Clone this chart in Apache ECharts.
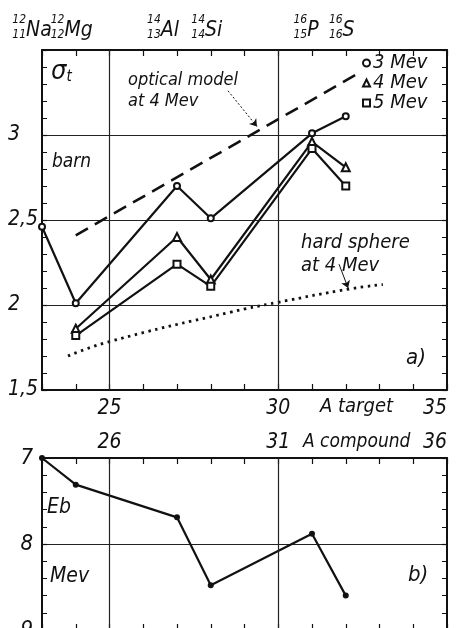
<!DOCTYPE html>
<html><head><meta charset="utf-8">
<script src="https://cdn.jsdelivr.net/npm/echarts@6/dist/echarts.min.js"></script>
<style>html,body{margin:0;padding:0;background:#fff}#c{width:457px;height:628px}</style>
</head><body><div id="c"></div>
<script>
// ---- data ----
const elements = ['Na','Mg','Al','Si','P','S'];
const elementTop = ['12','12','14','14','16','16'];
const elementZ = ['11','12','13','14','15','16'];
const targetA = [23,24,27,28,31,32];
const sigma3 = [2.46,2.01,2.70,2.51,3.01,3.11];
const sigma4 = [null,1.86,2.40,2.15,2.96,2.81];
const sigma5 = [null,1.82,2.24,2.11,2.92,2.70];
const opticalA = [24,32.35];
const opticalSigma = [2.41,3.36];
const hardA = [23.77,25,28.57,30,32.13,33.1];
const hardSigma = [1.70,1.785,1.957,2.016,2.095,2.12];
const compoundA = [24,25,28,29,32,33];
const Eb = [7.00,7.31,7.69,8.48,7.88,8.60];
const sigmaTicks = [1.5,2,2.5,3];
const targetTicks = [25,30,35];
const compoundTicks = [26,31,36];
const EbTicks = [7,8,9];
const targetGrid = [25,30];
const compoundGrid = [26,31];
const opticalArrow = [[28.51,3.26],[29.37,3.05]];
const hardArrow = [[31.8,2.24],[32.07,2.10]];

// ---- layout (pixel nudges of element labels) ----
const labelDx = [-10,-4,-14,-4,-6,-4];

const FF = "'Liberation Sans Narrow','DejaVu Sans Condensed','DejaVu Sans',sans-serif";
const K = '#111';
const txt = (size) => ({fontFamily: FF, fontStyle: 'italic', fontSize: size, color: K});

const pairs = (xs, ys) => xs.map((x,i)=>[x, ys[i]]).filter(p => p[1] != null);

const chart = echarts.init(document.getElementById('c'), null, {renderer:'canvas'});

const tickCommon = {show:true, inside:true, length:6, lineStyle:{color:K, width:1.2}};
const lineAxis = {show:true, lineStyle:{color:K, width:2}};

const option = {
  animation: false,
  backgroundColor: '#fff',
  grid: [
    {left:42, top:50, width:405, height:340, outerBoundsMode:'none', containLabel:false},
    {left:42, top:458, width:405, height:172, outerBoundsMode:'none', containLabel:false}
  ],
  xAxis: [
    {gridIndex:0, type:'value', position:'bottom', min:23, max:35, interval:1,
     axisLine:lineAxis, axisTick:tickCommon, splitLine:{show:false},
     axisLabel:Object.assign(txt(21), {margin:8, alignMaxLabel:'right',
       formatter: v => targetTicks.includes(v) ? String(v) : ''})},
    {gridIndex:0, type:'value', position:'top', min:23, max:35, interval:1,
     axisLine:lineAxis, axisTick:tickCommon, splitLine:{show:false}, axisLabel:{show:false}},
    {gridIndex:1, type:'value', position:'top', min:24, max:36, interval:1,
     axisLine:lineAxis, axisTick:tickCommon, splitLine:{show:false},
     axisLabel:Object.assign(txt(21), {margin:5, alignMaxLabel:'right',
       formatter: v => compoundTicks.includes(v) ? String(v) : ''})},
    {gridIndex:1, type:'value', position:'bottom', min:24, max:36, interval:1,
     axisLine:lineAxis, axisTick:tickCommon, splitLine:{show:false}, axisLabel:{show:false}}
  ],
  yAxis: [
    {gridIndex:0, type:'value', position:'left', min:1.5, max:3.5, interval:0.5,
     axisLine:lineAxis, axisTick:Object.assign({}, tickCommon, {length:5}),
     minorTick:{show:true, splitNumber:5, length:5, lineStyle:{color:K, width:1}},
     splitLine:{show:true, lineStyle:{color:'#222', width:1}},
     axisLabel:Object.assign(txt(21), {margin:34, align:'left',
       formatter: v => sigmaTicks.includes(v) ? String(v).replace('.', ',') : ''})},
    {gridIndex:0, type:'value', position:'right', min:1.5, max:3.5, interval:0.5,
     axisLine:lineAxis, axisTick:Object.assign({}, tickCommon, {length:5}),
     minorTick:{show:true, splitNumber:5, length:5, lineStyle:{color:K, width:1}},
     splitLine:{show:false}, axisLabel:{show:false}},
    {gridIndex:1, type:'value', position:'left', inverse:true, min:7, max:9, interval:1,
     axisLine:lineAxis, axisTick:Object.assign({}, tickCommon, {length:5}),
     minorTick:{show:true, splitNumber:5, length:5, lineStyle:{color:K, width:1}},
     splitLine:{show:true, lineStyle:{color:'#222', width:1}},
     axisLabel:Object.assign(txt(22), {margin:9, align:'right',
       formatter: v => EbTicks.includes(v) ? String(v) : ''})},
    {gridIndex:1, type:'value', position:'right', inverse:true, min:7, max:9, interval:1,
     axisLine:lineAxis, axisTick:Object.assign({}, tickCommon, {length:5}),
     minorTick:{show:true, splitNumber:5, length:5, lineStyle:{color:K, width:1}},
     splitLine:{show:false}, axisLabel:{show:false}}
  ],
  legend: {
    orient:'vertical', left:357, top:48, itemWidth:7, itemHeight:7, itemGap:0,
    textStyle:Object.assign(txt(20), {padding:[0,0,0,-2]}),
    data:[{name:'3 Mev', icon:'emptyCircle'},{name:'4 Mev', icon:'emptyTriangle'},{name:'5 Mev', icon:'emptyRect'}]
  },
  series: [
    {name:'3 Mev', type:'line', xAxisIndex:0, yAxisIndex:0, data:pairs(targetA, sigma3),
     symbol:'emptyCircle', symbolSize:6, z:5,
     itemStyle:{color:K, borderWidth:1.3}, lineStyle:{color:K, width:2.2},
     markLine:{silent:true, symbol:['none','none'], label:{show:false},
       lineStyle:{color:'#222', width:1.2, type:'solid'},
       data: targetGrid.map(v => ({xAxis:v}))}},
    {name:'4 Mev', type:'line', xAxisIndex:0, yAxisIndex:0, data:pairs(targetA, sigma4),
     symbol:'emptyTriangle', symbolSize:8, z:5,
     itemStyle:{color:K, borderWidth:1.3}, lineStyle:{color:K, width:2.2}},
    {name:'5 Mev', type:'line', xAxisIndex:0, yAxisIndex:0, data:pairs(targetA, sigma5),
     symbol:'emptyRect', symbolSize:7, z:5,
     itemStyle:{color:K, borderWidth:1.3}, lineStyle:{color:K, width:2.2}},
    {name:'optical', type:'line', xAxisIndex:0, yAxisIndex:0, data:pairs(opticalA, opticalSigma),
     symbol:'none', lineStyle:{color:K, width:2.6, type:[14,8]},
     markLine:{silent:true, symbol:['none','arrow'], symbolSize:7, label:{show:false},
       lineStyle:{color:K, width:1, type:[2,2]},
       data:[[{coord:opticalArrow[0]},{coord:opticalArrow[1]}]]}},
    {name:'hard', type:'line', xAxisIndex:0, yAxisIndex:0, data:pairs(hardA, hardSigma),
     symbol:'none', smooth:true, lineStyle:{color:K, width:2.8, type:[2.5,4.5]},
     markLine:{silent:true, symbol:['none','arrow'], symbolSize:7, label:{show:false},
       lineStyle:{color:K, width:1, type:'solid'},
       data:[[{coord:hardArrow[0]},{coord:hardArrow[1]}]]}},
    {name:'Eb', type:'line', xAxisIndex:2, yAxisIndex:2, data:pairs(compoundA, Eb),
     symbol:'circle', symbolSize:6, itemStyle:{color:K}, lineStyle:{color:K, width:2.2},
     markLine:{silent:true, symbol:['none','none'], label:{show:false},
       lineStyle:{color:'#222', width:1.2, type:'solid'},
       data: compoundGrid.map(v => ({xAxis:v}))}}
  ]
};
chart.setOption(option);

const T = (left, top, text, size, extra) => ({type:'text', left, top,
  style:Object.assign({text, fontFamily:FF, fontStyle:'italic', fontSize:size, fill:K}, extra||{})});

const graphics = [
  {type:'text', left:51, top:58, style:{text:'{a|σ}{b|t}', rich:{
    a:{fontFamily:FF, fontStyle:'italic', fontSize:27, fill:K},
    b:{fontFamily:FF, fontStyle:'italic', fontSize:15, fill:K, padding:[12,0,0,0]}}}},
  T(52, 153, 'barn', 19),
  T(128, 70, 'optical model\nat 4 Mev', 18, {lineHeight:21}),
  T(301, 231, 'hard sphere\nat 4 Mev', 20, {lineHeight:23}),
  T(406, 347, 'a)', 22),
  T(320, 397, 'A target', 20),
  T(303, 433, 'A compound', 19),
  T(47, 497, 'Eb', 21),
  T(50, 566, 'Mev', 21),
  T(408, 564, 'b)', 22)
];

elements.forEach((el, i) => {
  const px = chart.convertToPixel({xAxisIndex:0}, targetA[i]);
  graphics.push({type:'text', x: px + labelDx[i], y: 14, style:{
    text:'{sup|' + elementTop[i] + '}{gh|' + el + '}\n{sub|' + elementZ[i] + '}{el|' + el + '}',
    align:'center', verticalAlign:'top',
    rich:{
      sup:{fontFamily:FF, fontStyle:'italic', fontSize:12, lineHeight:11, fill:K},
      gh:{fontFamily:FF, fontStyle:'italic', fontSize:21, lineHeight:11, fill:'rgba(0,0,0,0)'},
      sub:{fontFamily:FF, fontStyle:'italic', fontSize:12, lineHeight:16, fill:K, verticalAlign:'bottom'},
      el:{fontFamily:FF, fontStyle:'italic', fontSize:21, lineHeight:16, fill:K, verticalAlign:'bottom'}
    }}});
});
chart.setOption({graphic: graphics});
</script></body></html>
